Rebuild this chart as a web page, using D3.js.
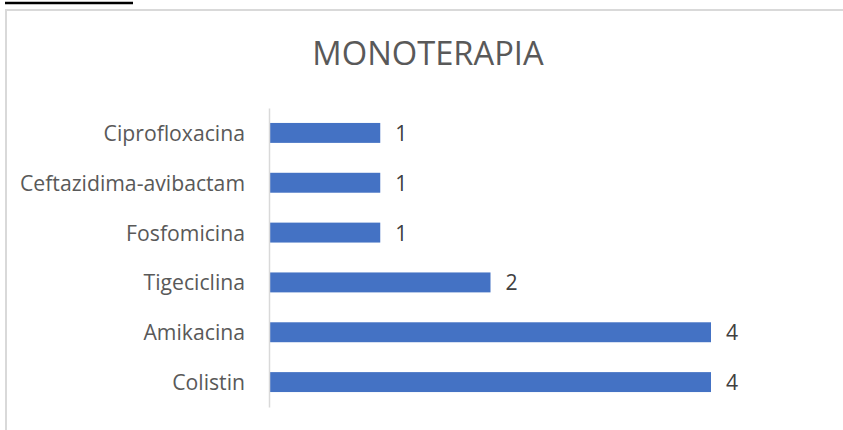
<!DOCTYPE html>
<html>
<head>
<meta charset="utf-8">
<script src="https://cdn.jsdelivr.net/npm/d3@7"></script>
<style>
  body { margin: 0; background: #fff; }
  text { font-family: "Open Sans", sans-serif; }
</style>
</head>
<body>
<script>
// dati del grafico
var categories = ["Colistin", "Amikacina", "Tigeciclina", "Fosfomicina", "Ceftazidima-avibactam", "Ciprofloxacina"];
var values = [4, 4, 2, 1, 1, 1];
var title = "MONOTERAPIA";

var width = 843, height = 430;

var plot = {left: 270, right: 711, top: 108, bottom: 407};

var svg = d3.select("body").append("svg")
    .attr("width", width)
    .attr("height", height);

// linea nera in alto
svg.append("line")
    .attr("x1", 5).attr("x2", 133)
    .attr("y1", 3).attr("y2", 3)
    .style("stroke", "#000")
    .style("stroke-width", 2.5);

// bordo del grafico
svg.append("path")
    .attr("d", "M6," + height + "V10H" + width)
    .style("fill", "none")
    .style("stroke", "#d9d9d9")
    .style("stroke-width", 2);

svg.append("text")
    .attr("x", 428)
    .attr("y", 65)
    .attr("text-anchor", "middle")
    .attr("font-size", "32.7px")
    .style("fill", "#595959")
    .text(title);

var x = d3.scaleLinear().domain([0, 4]).range([plot.left, plot.right]);

var y = d3.scaleBand()
    .domain(categories.slice().reverse())
    .range([plot.top, plot.bottom])
    .paddingInner(0.6)
    .paddingOuter(0.3);

var data = categories.map(function(c, i) { return {name: c, value: values[i]}; });

svg.selectAll(".bar")
    .data(data)
    .enter().append("rect")
    .attr("class", "bar")
    .attr("x", x(0))
    .attr("y", function(d) { return y(d.name); })
    .attr("width", function(d) { return x(d.value) - x(0); })
    .attr("height", y.bandwidth())
    .style("fill", "#4472c4");

// asse verticale
var yAxis = d3.axisLeft(y).tickSize(0).tickPadding(24);
var ag = svg.append("g")
    .attr("transform", "translate(" + (x(0) - 1) + ",0)")
    .call(yAxis);
ag.select(".domain").style("stroke", "#d9d9d9").style("stroke-width", 1.5);
ag.selectAll("text")
    .attr("dy", "0.38em")
    .style("font-family", "Open Sans, sans-serif")
    .style("font-size", "21.2px")
    .style("fill", "#595959");

svg.selectAll(".label")
    .data(data)
    .enter().append("text")
    .attr("class", "label")
    .attr("x", function(d) { return x(d.value) + 15; })
    .attr("y", function(d) { return y(d.name) + y.bandwidth() / 2; })
    .attr("dy", "0.38em")
    .attr("font-size", "21.2px")
    .style("fill", "#404040")
    .text(function(d) { return d.value; });
</script>
</body>
</html>
